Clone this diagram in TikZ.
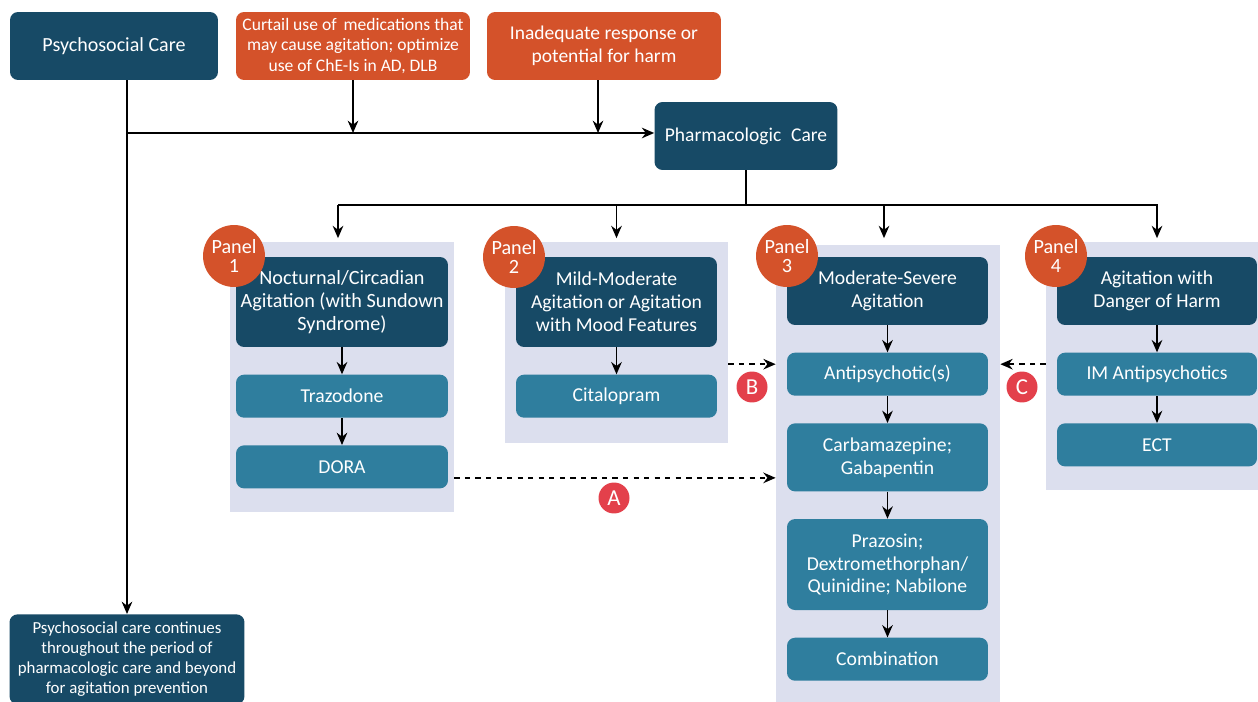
\documentclass[tikz,border=0pt]{standalone}
\usepackage{fontspec}
\setmainfont{Carlito}
\usepackage{tikz}
\usetikzlibrary{positioning,arrows.meta}
\definecolor{hdrblue}{HTML}{174A66}
\definecolor{drugblue}{HTML}{2F7E9E}
\definecolor{warnorange}{HTML}{D4522A}
\definecolor{panelgray}{HTML}{DCDFEE}
\definecolor{dotred}{HTML}{E3404B}

\begin{document}
\begin{tikzpicture}[x=0.02cm,y=-0.02cm,node distance=0.54cm,
    every node/.style={text=white, align=center, font=\fontsize{11.2}{13}\selectfont},
    box/.style={rounded corners=0.16cm, inner sep=1pt},
    hdr/.style={box, fill=hdrblue},
    drug/.style={box, fill=drugblue, minimum height=0.86cm},
    warn/.style={box, fill=warnorange},
    panelbg/.style={fill=panelgray, inner sep=0pt},
    tag/.style={circle, fill=warnorange, minimum size=1.24cm, inner sep=0pt,
        font=\fontsize{11.5}{11.3}\selectfont},
    letterdot/.style={circle, fill=dotred, minimum size=0.62cm, inner sep=0pt,
        font=\fontsize{13}{13}\selectfont},
    flow/.style={-{Stealth[length=7pt,width=6pt]}, line width=1.1pt}]
    \useasboundingbox (0,0) rectangle (1258,702);

    % panel backgrounds
    \node[panelbg, minimum width=4.48cm, minimum height=5.4cm] (p1_bg) at (342,377) {};
    \node[panelbg, minimum width=4.46cm, minimum height=4.02cm] (p2_bg) at (616.5,342.5) {};
    \node[panelbg, minimum width=4.48cm, minimum height=9.34cm] (p3_bg) at (888,478.5) {};
    \node[panelbg, minimum width=4.48cm, minimum height=4.96cm] (p4_bg) at (1158,366) {};

    % top row
    \node[hdr, minimum width=4.16cm, minimum height=1.36cm, font=\fontsize{11.4}{13}\selectfont] (psych) at (114,46) {Psychosocial Care};
    \node[warn, minimum width=4.68cm, minimum height=1.36cm, font=\fontsize{10}{11.6}\selectfont] (curtail) at (353,46)
        {Curtail use of\, medications that\\may cause agitation; optimize\\use of ChE-Is in AD, DLB};
    \node[warn, minimum width=4.68cm, minimum height=1.36cm, font=\fontsize{11.1}{13}\selectfont] (inad) at (604,46)
        {Inadequate response or\\potential for harm};
    \node[hdr, minimum width=3.66cm, minimum height=1.36cm, font=\fontsize{11.1}{13}\selectfont] (pharm) at (746,136) {Pharmacologic\; Care};
    \node[hdr, anchor=north, minimum width=4.7cm, minimum height=1.8cm, font=\fontsize{9.6}{11.3}\selectfont] (cont) at (127,614)
        {Psychosocial care continues\\throughout the period of\\pharmacologic care and beyond\\for agitation prevention};

    % panel 1
    \node[hdr, minimum width=4.24cm, minimum height=1.8cm, font=\fontsize{11.5}{13}\selectfont] (p1_h) at (342,302)
        {Nocturnal/Circadian\\Agitation (with Sundown\\Syndrome)};
    \node[drug, minimum width=4.24cm] (p1_a) [below=of p1_h] {Trazodone};
    \node[drug, minimum width=4.24cm] (p1_b) [below=of p1_a] {DORA};

    % panel 2
    \node[hdr, minimum width=4.02cm, minimum height=1.8cm] (p2_h) at (616.5,302)
        {Mild-Moderate\\Agitation or Agitation\\with Mood Features};
    \node[drug, minimum width=4.02cm] (p2_a) [below=of p2_h] {Citalopram};

    % panel 3
    \node[hdr, minimum width=4.02cm, minimum height=1.36cm] (p3_h) at (887.5,291)
        {Moderate-Severe\\Agitation};
    \node[drug, minimum width=4.02cm] (p3_a) [below=of p3_h] {Antipsychotic(s)};
    \node[drug, minimum width=4.02cm, minimum height=1.36cm] (p3_b) [below=of p3_a] {Carbamazepine;\\Gabapentin};
    \node[drug, minimum width=4.02cm, minimum height=1.82cm] (p3_c) [below=of p3_b] {Prazosin;\\Dextromethorphan/\\Quinidine; Nabilone};
    \node[drug, minimum width=4.02cm] (p3_d) [below=of p3_c] {Combination};

    % panel 4
    \node[hdr, minimum width=4.0cm, minimum height=1.36cm] (p4_h) at (1157,291)
        {Agitation with\\Danger of Harm};
    \node[drug, minimum width=4.0cm] (p4_a) [below=of p4_h] {IM Antipsychotics};
    \node[drug, minimum width=4.0cm] (p4_b) [below=of p4_a] {ECT};

    % panel tags
    \node[tag] (p1_t) at (234,256) {Panel\\1};
    \node[tag] (p2_t) at (514,257) {Panel\\2};
    \node[tag] (p3_t) at (787,256) {Panel\\3};
    \node[tag] (p4_t) at (1056,256) {Panel\\4};

    % crossover labels
    \node[letterdot] (lab_a) at (614,498) {A};
    \node[letterdot] (lab_b) at (752,387) {B};
    \node[letterdot] (lab_c) at (1022,387) {C};

    % connectors
    \coordinate (top_j) at (127,133);
    \coordinate (mid_j) at (742,205);
    \draw[flow] (psych.south -| cont.north) -- (cont.north);
    \draw[flow] (top_j) -- (pharm.west |- top_j);
    \draw[flow] (curtail.south) -- (curtail.south |- top_j);
    \draw[flow] ([xshift=-0.12cm]inad.south) -- ([xshift=-0.12cm]inad.south |- top_j);
    \draw[line width=1.1pt] (pharm.south) -- (pharm.south |- mid_j);
    \draw[line width=1.1pt] ([xshift=-0.08cm]p1_h.north |- mid_j) -- ([xshift=0.01cm]p4_h.north |- mid_j);
    \foreach \p/\dx in {p1/-0.08,p2/0,p3/-0.07,p4/0}
        \draw[flow, shorten >=2pt] ([xshift=\dx cm]\p_h.north |- mid_j) -- ([xshift=\dx cm]\p_h.north |- p2_bg.north);

    \draw[flow] (p1_h) -- (p1_a);
    \draw[flow] (p1_a) -- (p1_b);
    \draw[flow] (p2_h) -- (p2_a);
    \draw[flow] (p3_h) -- (p3_a);
    \draw[flow] (p3_a) -- (p3_b);
    \draw[flow] (p3_b) -- (p3_c);
    \draw[flow] (p3_c) -- (p3_d);
    \draw[flow] (p4_h) -- (p4_a);
    \draw[flow] (p4_a) -- (p4_b);

    \draw[flow, dashed] ([yshift=-0.22cm]p1_bg.east |- p1_b) -- ([yshift=-0.22cm]p3_bg.west |- p1_b);
    \draw[flow, dashed] ([yshift=0.2cm]p2_bg.east |- p3_a) -- ([yshift=0.2cm]p3_bg.west |- p3_a);
    \draw[flow, dashed] ([yshift=0.2cm]p4_bg.west |- p4_a) -- ([yshift=0.2cm]p3_bg.east |- p4_a);
\end{tikzpicture}
\end{document}
